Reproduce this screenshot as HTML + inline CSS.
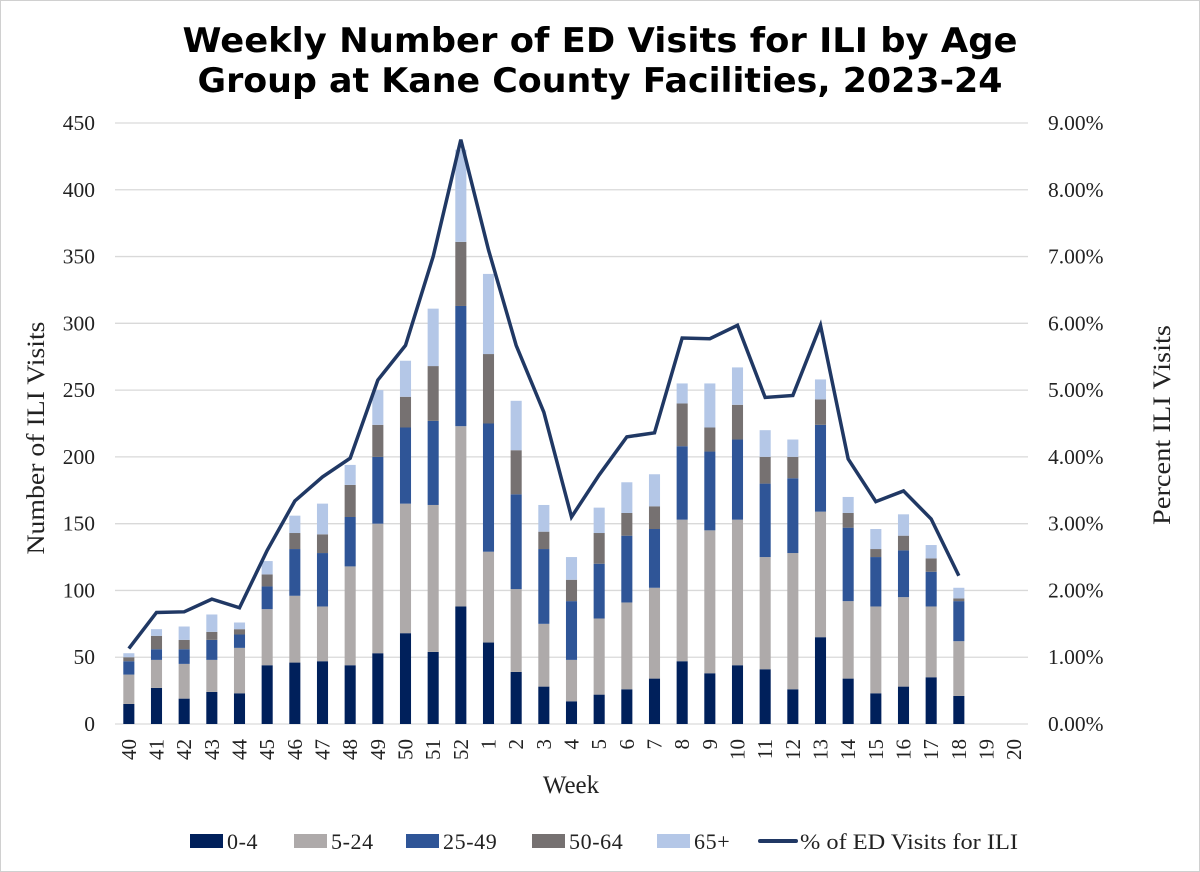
<!DOCTYPE html>
<html><head><meta charset="utf-8"><style>
body{margin:0;background:#fff;}
svg{display:block;}
text{font-family:"Liberation Serif",serif;fill:#222;}
</style></head><body>
<svg id="chart" width="1200" height="872" viewBox="0 0 1200 872">
<rect x="0.5" y="0.5" width="1199" height="871" fill="#fff" stroke="#d0d0d0"/>
<text x="600" y="52" text-anchor="middle" textLength="835" lengthAdjust="spacingAndGlyphs" style="font-family:'DejaVu Sans',sans-serif;font-weight:bold;font-size:34px;fill:#000">Weekly Number of ED Visits for ILI by Age</text>
<text x="600" y="92" text-anchor="middle" textLength="805" lengthAdjust="spacingAndGlyphs" style="font-family:'DejaVu Sans',sans-serif;font-weight:bold;font-size:34px;fill:#000">Group at Kane County Facilities, 2023-24</text>
<g id="grid"></g><g id="bars"></g><g id="line"></g><g id="axes"></g><g id="legend"></g>
<text transform="translate(44,438) rotate(-90)" text-anchor="middle" font-size="25" textLength="233" lengthAdjust="spacingAndGlyphs">Number of ILI Visits</text>
<text transform="translate(1170,425) rotate(-90)" text-anchor="middle" font-size="25" textLength="200" lengthAdjust="spacingAndGlyphs">Percent ILI Visits</text>
<text x="571" y="793" text-anchor="middle" font-size="25">Week</text>
</svg>
<script>
const weeks=["40","41","42","43","44","45","46","47","48","49","50","51","52","1","2","3","4","5","6","7","8","9","10","11","12","13","14","15","16","17","18","19","20"];
const age0_4=[15,27,19,24,23,44,46,47,44,53,68,54,88,61,39,28,17,22,26,34,47,38,44,41,26,65,34,23,28,35,21,null,null];
const age5_24=[22,21,26,24,34,42,50,41,74,97,97,110,135,68,62,47,31,57,65,68,106,107,109,84,102,94,58,65,67,53,41,null,null];
const age25_49=[10,8,11,15,10,17,35,40,37,50,57,63,90,96,71,56,44,41,50,44,55,59,60,55,56,65,55,37,35,26,30,null,null];
const age50_64=[3,10,7,6,4,9,12,14,24,24,23,41,48,52,33,13,16,23,17,17,32,18,26,20,16,19,11,6,11,10,2,null,null];
const age65=[3,5,10,13,5,10,13,23,15,26,27,43,69,60,37,20,17,19,23,24,15,33,28,20,13,15,12,15,16,10,8,null,null];
const pctILI=[1.13,1.67,1.68,1.87,1.74,2.6,3.34,3.7,3.98,5.15,5.67,7.0,8.75,7.1,5.67,4.67,3.1,3.73,4.3,4.36,5.78,5.77,5.97,4.89,4.92,5.97,3.97,3.33,3.49,3.07,2.22,null,null];
const leftTicks=[0,50,100,150,200,250,300,350,400,450];
const rightTicks=[0,1,2,3,4,5,6,7,8,9];
const seriesNames=["0-4","5-24","25-49","50-64","65+"];
const seriesColors=["#00205b","#aeaaaa","#2f5597","#767171","#b4c7e7"];
const NS="http://www.w3.org/2000/svg";
const X0=115,X1=1028,Y0=724,Y1=123;
const bw=(X1-X0)/weeks.length;
const barW=bw/2.5;
const xc=i=>X0+bw*(i+0.5);
const y=v=>Y0-(Y0-Y1)*v/450;
const y2=p=>Y0-(Y0-Y1)*p/9;
function mk(tag,attrs,parent){const e=document.createElementNS(NS,tag);for(const k in attrs)e.setAttribute(k,attrs[k]);document.getElementById(parent).appendChild(e);return e;}
leftTicks.forEach((t,i)=>{
  const g=mk('line',{x1:X0,x2:X1,y1:y(t),y2:y(t),stroke:'#d9d9d9','stroke-width':1.3},'grid');
  
  
  const l=mk('text',{x:95,y:y(t)+7,'text-anchor':'end','font-size':21.5},'axes');l.textContent=t;
  
  
});
rightTicks.forEach(t=>{
  const l=mk('text',{x:1048,y:y2(t)+7,'font-size':21.5},'axes');l.textContent=t.toFixed(2)+'%';
  
  
});
weeks.forEach((w,i)=>{
  const l=mk('text',{transform:`translate(${xc(i)+7},${739}) rotate(-90)`,'text-anchor':'end','font-size':21},'axes');l.textContent=w;
  
  
});
const series=[age0_4,age5_24,age25_49,age50_64,age65];
weeks.forEach((w,i)=>{
  let cum=0;
  series.forEach((s,k)=>{
    const v=s[i];if(v==null)return;
    const r=mk('rect',{x:xc(i)-barW/2,y:y(cum+v),width:barW,height:y(cum)-y(cum+v),fill:seriesColors[k]},'bars');
    
    
    cum+=v;
  });
});
const pts=[];pctILI.forEach((p,i)=>{if(p!=null)pts.push(xc(i)+','+y2(p));});
const pl=mk('polyline',{points:pts.join(' '),fill:'none',stroke:'#203864','stroke-width':3.5,'stroke-linejoin':'miter'},'line');


const legX=[190,294,406,532,657];
seriesNames.forEach((n,k)=>{
  const r=mk('rect',{x:legX[k],y:834,width:33,height:14,fill:seriesColors[k]},'legend');
  
  
  const t=mk('text',{x:legX[k]+37,y:849,'font-size':22,'letter-spacing':0.6},'legend');t.textContent=n;
  
  
});
const ll=mk('line',{x1:760,x2:796,y1:841,y2:841,stroke:'#203864','stroke-width':4,'stroke-linecap':'round'},'legend');


const lt=mk('text',{x:800,y:849,'font-size':22,textLength:218,lengthAdjust:'spacingAndGlyphs'},'legend');lt.textContent='% of ED Visits for ILI';


</script>
</body></html>
